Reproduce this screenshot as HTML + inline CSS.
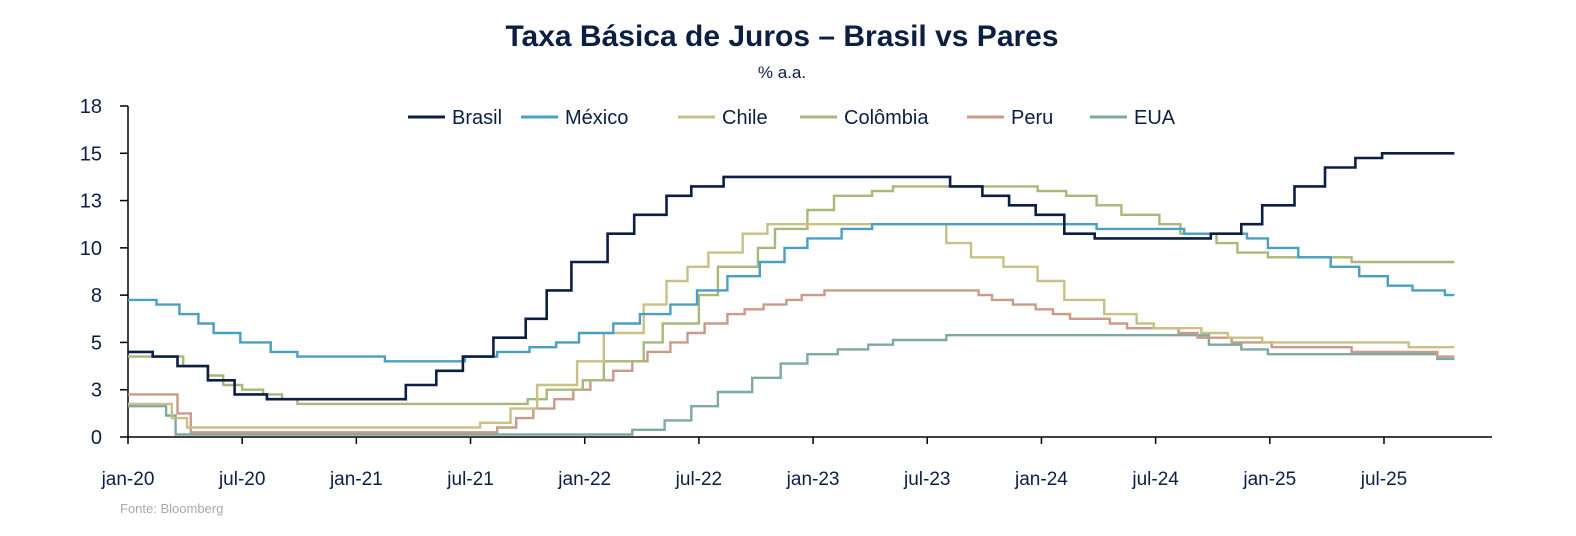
<!DOCTYPE html>
<html><head><meta charset="utf-8">
<style>
body{margin:0;background:#fff;}
svg text{font-family:"Liberation Sans",sans-serif;}
</style></head>
<body>
<svg id="chart" width="1576" height="531" viewBox="0 0 1576 531" xmlns="http://www.w3.org/2000/svg">
<text x="782" y="46" text-anchor="middle" font-size="30" font-weight="bold" fill="#0b1f45">Taxa Básica de Juros – Brasil vs Pares</text>
<text x="782" y="78" text-anchor="middle" font-size="17" fill="#0b1f45">% a.a.</text>
<g id="legend"></g>
<g id="axes"></g>
<g id="series"></g>
<text x="120" y="513" font-size="13" fill="#aaaaaa">Fonte: Bloomberg</text>
</svg>
<script>
const xLabels=["jan-20","jul-20","jan-21","jul-21","jan-22","jul-22","jan-23","jul-23","jan-24","jul-24","jan-25","jul-25"];
const yTicks=[0,2.5,5,7.5,10,12.5,15,17.5];
const yTickLabels=["0","3","5","8","10","13","15","18"];
const names=["Brasil","México","Chile","Colômbia","Peru","EUA"];
const colors=["#0b1f45","#4a9fc4","#c9c184","#a9b879","#c99b88","#7eaaa5"];
const brasil=[[0,4.5],[1.3,4.25],[2.6,3.75],[4.2,3.0],[5.6,2.25],[7.3,2.0],[14.6,2.75],[16.2,3.5],[17.6,4.25],[19.2,5.25],[20.9,6.25],[22,7.75],[23.3,9.25],[25.2,10.75],[26.6,11.75],[28.3,12.75],[29.6,13.25],[31.3,13.75],[43.2,13.25],[44.9,12.75],[46.3,12.25],[47.7,11.75],[49.2,10.75],[50.8,10.5],[56.9,10.75],[58.5,11.25],[59.6,12.25],[61.3,13.25],[62.9,14.25],[64.5,14.75],[65.9,15]];
const mexico=[[0,7.25],[1.5,7.0],[2.7,6.5],[3.7,6.0],[4.5,5.5],[5.9,5.0],[7.5,4.5],[8.9,4.25],[13.5,4.0],[17.7,4.25],[19.4,4.5],[21.1,4.75],[22.5,5.0],[23.7,5.5],[25.5,6.0],[26.9,6.5],[28.5,7.0],[29.9,7.75],[31.5,8.5],[33.2,9.25],[34.5,10.0],[35.7,10.5],[37.5,11.0],[39.1,11.25],[50.9,11.0],[55.5,10.75],[58.8,10.5],[59.9,10.0],[61.5,9.5],[63.2,9.0],[64.7,8.5],[66.2,8.0],[67.5,7.75],[69.2,7.5]];
const chile=[[0,1.75],[2.3,1.0],[3.1,0.5],[18.5,0.75],[20.1,1.5],[21.5,2.75],[23.6,4.0],[25,5.5],[27.1,7.0],[28.3,8.25],[29.4,9.0],[30.5,9.75],[32.3,10.75],[33.6,11.25],[43,10.25],[44.3,9.5],[46,9.0],[47.8,8.25],[49.2,7.25],[51.3,6.5],[53,6.0],[53.9,5.75],[56.4,5.5],[57.8,5.25],[59.6,5.0],[67.3,4.75]];
const colombia=[[0,4.25],[2.9,3.75],[4.2,3.25],[5,2.75],[6,2.5],[7.1,2.25],[8.1,2.0],[8.9,1.75],[21,2.0],[22,2.5],[23.9,3.0],[25,4.0],[27.1,5.0],[28.1,6.0],[30,7.5],[31,9.0],[33.1,10.0],[34,11.0],[35.7,12.0],[37.1,12.75],[39.1,13.0],[40.2,13.25],[47.8,13.0],[49.3,12.75],[50.9,12.25],[52.2,11.75],[54.2,11.25],[55.3,10.75],[57.2,10.25],[58.3,9.75],[59.9,9.5],[64.3,9.25]];
const peru=[[0,2.25],[2.6,1.25],[3.3,0.25],[19.4,0.5],[20.4,1.0],[21.3,1.5],[22.4,2.0],[23.4,2.5],[24.3,3.0],[25.5,3.5],[26.5,4.0],[27.3,4.5],[28.5,5.0],[29.4,5.5],[30.3,6.0],[31.5,6.5],[32.4,6.75],[33.4,7.0],[34.6,7.25],[35.4,7.5],[36.6,7.75],[44.7,7.5],[45.4,7.25],[46.5,7.0],[47.7,6.75],[48.6,6.5],[49.5,6.25],[51.6,6.0],[52.5,5.75],[55.2,5.5],[56.2,5.25],[58,5.0],[60.1,4.75],[64.3,4.5],[68.8,4.25]];
const eua=[[0,1.63],[2,1.13],[2.5,0.13],[26.5,0.38],[28.2,0.88],[29.6,1.63],[31,2.38],[32.8,3.13],[34.3,3.88],[35.7,4.38],[37.3,4.63],[38.9,4.88],[40.2,5.13],[43,5.38],[56.8,4.88],[58.5,4.63],[59.9,4.38],[68.8,4.13]];
const allSeries=[brasil,mexico,chile,colombia,peru,eua];
const endMonth=69.7;
const NS="http://www.w3.org/2000/svg";
const X0=128,XW=19.03,Y0=437,YH=331/17.5;
function xs(m){return X0+m*XW;}
function ys(v){return Y0-v*YH;}
function mk(tag,attrs,parent){const e=document.createElementNS(NS,tag);for(const k in attrs)e.setAttribute(k,attrs[k]);parent.appendChild(e);return e;}
const axes=document.getElementById('axes');
const yl=mk('line',{x1:X0,y1:ys(17.5),x2:X0,y2:Y0,stroke:'#000','stroke-width':1.5},axes);


const xl=mk('line',{x1:X0,y1:Y0,x2:1492,y2:Y0,stroke:'#000','stroke-width':1.5},axes);


yTicks.forEach((v,i)=>{
 const t=mk('line',{x1:X0-8,y1:ys(v),x2:X0,y2:ys(v),stroke:'#000','stroke-width':1.5},axes);
 
 
 const tx=mk('text',{x:102,y:ys(v)+7,'text-anchor':'end','font-size':20,fill:'#0b1f45'},axes);
 tx.textContent=yTickLabels[i];
 
 
});
xLabels.forEach((l,i)=>{
 const x=xs(i*6);
 const t=mk('line',{x1:x,y1:Y0,x2:x,y2:Y0+7,stroke:'#000','stroke-width':1.5},axes);
 
 
 const tx=mk('text',{x:x,y:485,'text-anchor':'middle','font-size':19,fill:'#0b1f45'},axes);
 tx.textContent=l;
 
 
});
const sg=document.getElementById('series');
[5,4,3,2,1,0].forEach(i=>{
 const s=allSeries[i];
 let d='M'+xs(s[0][0]).toFixed(1)+' '+ys(s[0][1]).toFixed(1);
 for(let k=1;k<s.length;k++){d+=' H'+xs(s[k][0]).toFixed(1)+' V'+ys(s[k][1]).toFixed(1);}
 d+=' H'+xs(endMonth).toFixed(1);
 const p=mk('path',{d:d,fill:'none',stroke:colors[i],'stroke-width':i==0?2.6:2.4},sg);
 
 
});
const lg=document.getElementById('legend');
const lx=[408,521,678,800,967,1090];
names.forEach((n,i)=>{
 const g=mk('g',{},lg);
 
 
 mk('line',{x1:lx[i],y1:117,x2:lx[i]+37,y2:117,stroke:colors[i],'stroke-width':3},g);
 const t=mk('text',{x:lx[i]+44,y:124,'font-size':20,fill:'#0b1f45'},g);
 t.textContent=n;
});
</script>
</body></html>
